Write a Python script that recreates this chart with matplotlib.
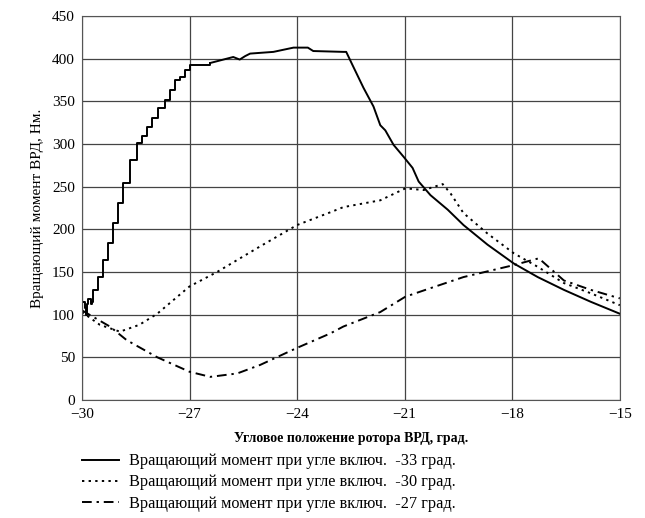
import matplotlib.pyplot as plt
import numpy as np

plt.rcParams['font.family'] = ['Liberation Serif', 'DejaVu Serif']

# момент при угле включения -33 град.
x33 = [-30.0, -29.92, -29.9, -29.85, -29.82, -29.75, -29.72, -29.69, -29.55, -29.41, -29.27,
       -29.13, -28.99, -28.85, -28.66, -28.46, -28.32, -28.18, -28.04, -27.87, -27.68,
       -27.54, -27.40, -27.26, -27.12, -26.98, -26.42, -25.78, -25.6, -25.45, -25.31,
       -24.66, -24.1, -23.7, -23.55, -22.71, -22.63, -22.46, -22.15, -21.87, -21.68,
       -21.54, -21.31, -21.03, -20.78, -20.61, -20.28, -19.80, -19.36, -18.69, -17.96,
       -17.29, -16.56, -15.81, -15.0]
y33 = [115, 108, 100, 112, 118, 113, 115, 129, 144, 164, 184,
       207, 231, 254, 281, 301, 309, 320, 330, 342, 352,
       363, 375, 379, 387, 393, 395, 402, 399, 403, 406,
       408, 413, 413, 409, 408, 408, 393, 366, 344, 322,
       316, 299, 285, 272, 256, 240, 223, 205, 182, 160,
       144, 129, 115, 101]

# момент при угле включения -30 град.
x30 = [-30.0, -29.5, -28.94, -28.4, -27.9, -27.0, -26.23, -25.03, -24.0, -23.07,
       -22.71, -21.68, -20.98, -20.47, -19.94, -19.72, -19.36, -18.69, -17.96, -17.29,
       -16.56, -15.81, -15.0]
y30 = [103, 88, 80, 88, 101, 133, 150, 180, 205, 220,
       226, 234, 248, 246, 253, 242, 219, 195, 172, 156,
       137, 125, 111]

# момент при угле включения -27 град.
x27 = [-30.0, -29.22, -28.75, -27.9, -27.0, -26.42, -25.67, -25.03, -24.0, -23.07,
       -22.71, -21.68, -20.98, -20.28, -19.36, -17.96, -17.26, -16.56, -15.81, -15.0]
y27 = [105, 86, 70, 50, 33, 27, 31, 41, 61, 78,
       86, 103, 121, 131, 144, 158, 166, 140, 129, 119]

labels = ['Вращающий момент при угле включ.  -33 град.',
          'Вращающий момент при угле включ.  -30 град.',
          'Вращающий момент при угле включ.  -27 град.']

fig = plt.figure(figsize=(6.45, 5.18), dpi=100)
ax = fig.add_axes([0.127, 0.228, 0.834, 0.741])

# ступенчатый подъём, затем плавный спад
k = 26
l1, = ax.plot(x33[:k + 1], y33[:k + 1], '-', color='black', linewidth=1.4, drawstyle='steps-post')
ax.plot(x33[k:], y33[k:], '-', color='black', linewidth=1.4)
l2, = ax.plot(x30, y30, color='black', linewidth=1.4, linestyle=(0, (1.2, 2.2)))
l3, = ax.plot(x27, y27, color='black', linewidth=1.4, linestyle=(0, (5, 2.5, 1.2, 2.5)))

ax.set_xlim(-30, -15)
ax.set_ylim(0, 450)
ax.set_xticks(np.arange(-30, -14, 3))
ax.set_yticks(np.arange(0, 451, 50))
ax.grid(True, color='#444444', linewidth=0.9)
ax.tick_params(length=0, labelsize=11)
ax.tick_params(axis='x', pad=6)
ax.tick_params(axis='y', pad=5)
for s in ax.spines.values():
    s.set_color('#555555')

ax.set_xlabel('Угловое положение ротора ВРД, град.', fontsize=10, fontweight='bold', labelpad=8)
ax.set_ylabel('Вращающий момент ВРД, Нм.', fontsize=11, labelpad=6)

fig.legend([l1, l2, l3], labels, loc='upper left', bbox_to_anchor=(0.127, 0.125),
           frameon=False, fontsize=11.7, handlelength=2.3, labelspacing=0.32,
           handletextpad=0.6, borderpad=0, borderaxespad=0)

fig.savefig('out.png', dpi=100)
